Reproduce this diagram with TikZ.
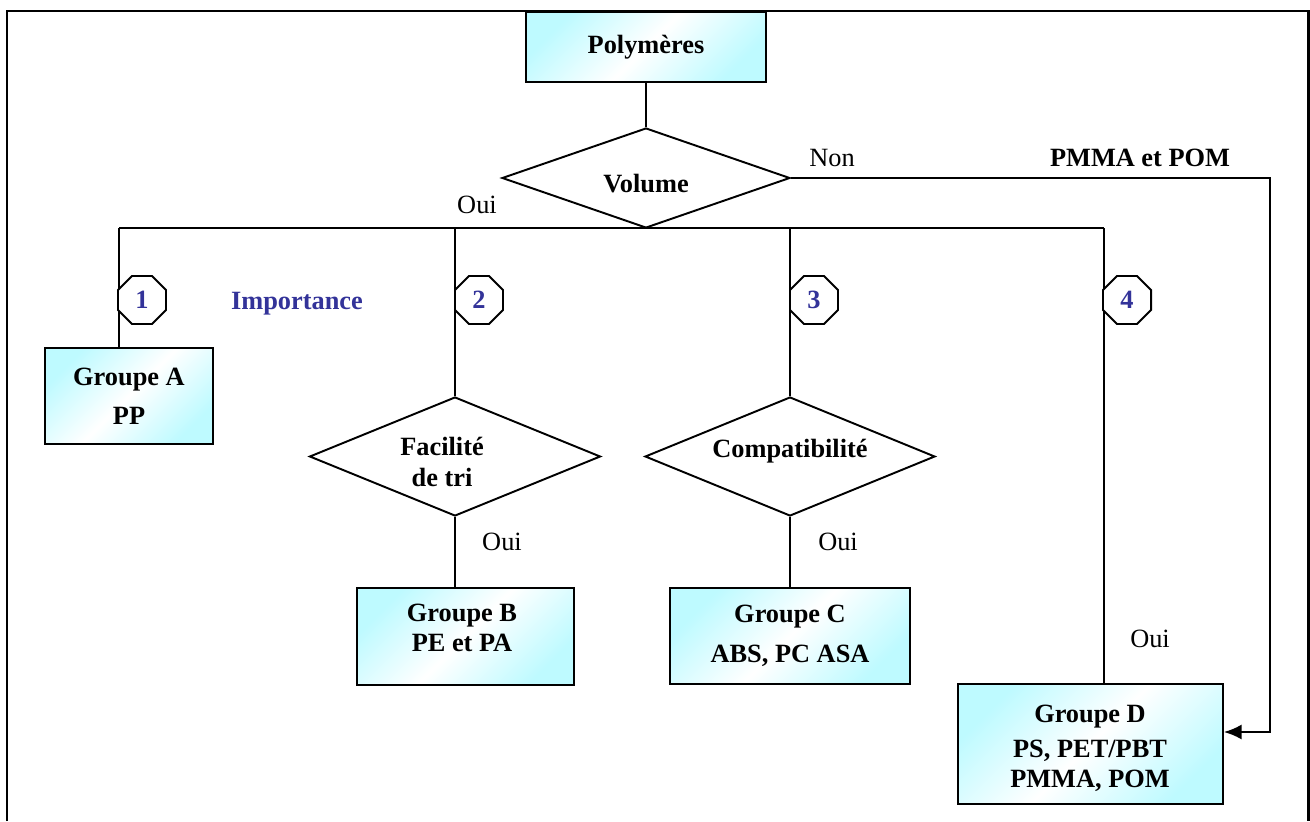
\documentclass[tikz,border=0pt]{standalone}
\usepackage{fontspec}
\setmainfont{Liberation Serif}
\usetikzlibrary{shapes.geometric, arrows.meta}
\definecolor{boxcyan}{RGB}{190,250,255}
\definecolor{numblue}{RGB}{51,51,153}
\tikzset{
	groupbox/.style={draw, line width=1.1pt, left color=boxcyan, right color=boxcyan, middle color=white, shading angle=45, align=center, inner sep=0pt, font=\bfseries\fontsize{15}{19}\selectfont},
	grouptext/.style={align=center, inner sep=0pt, font=\bfseries\fontsize{15}{19}\selectfont},
	choice/.style={draw, diamond, line width=1.1pt, aspect=2.5, inner sep=0pt, align=center, font=\bfseries\fontsize{15}{19}\selectfont},
	octo/.style={draw, regular polygon, regular polygon sides=8, minimum size=1.04cm, inner sep=0pt, fill=white, line width=1.1pt, text=numblue, font=\bfseries\fontsize{15}{19}\selectfont},
	link/.style={line width=1.1pt},
	answer/.style={font=\fontsize{15}{19}\selectfont}
}

\begin{document}
\begin{tikzpicture}[x=0.02cm, y=-0.02cm]
		\useasboundingbox (0,0) rectangle (1310,821);
		\draw[line width=1.7pt] (7,821)--(7,11)--(1308,11)--(1308,821);
		% boxes and tests
		\node[groupbox, minimum width=4.8cm, minimum height=1.4cm] (poly) at (646,47) {Polymères};
		\node[choice, minimum width=5.76cm, minimum height=2cm] (vol) at (646,178) {\raisebox{-3pt}[\height][\depth]{Volume}};
		\node[groupbox, minimum width=3.36cm, minimum height=1.92cm] (grA) at (129,396) {Groupe A\\[3pt]PP};
		\node[choice, minimum width=5.82cm, minimum height=2.38cm] (fac) at (455,456.5) {};
		\node[grouptext] (factxt) at (442,462) {Facilité\\[-1.5pt]de tri};
		\node[choice, minimum width=5.8cm, minimum height=2.38cm] (comp) at (790,456.5) {\raisebox{9pt}{Compatibilité}};
		\node[groupbox, minimum width=4.34cm, minimum height=1.94cm] (grB) at (465.5,636.5) {};
		\node[grouptext] (grBtxt) at (462,628) {Groupe B\\[-2pt]PE et PA};
		\node[groupbox, minimum width=4.8cm, minimum height=1.92cm] (grC) at (790,636) {Groupe C\\[4pt]ABS, PC ASA};
		\node[groupbox, minimum width=5.3cm, minimum height=2.4cm] (grD) at (1090.5,744) {};
		\node[grouptext] (grDtxt) at (1090,748) {Groupe D\\[1pt]PS, PET/PBT\\[-2pt]PMMA, POM};
		% bus and branches
		\coordinate (busA) at (119,228);
		\coordinate (busB) at (455,228);
		\coordinate (busC) at (790,228);
		\coordinate (busD) at (1104,228);
		\coordinate (turn) at (1270,732);
		\draw[link] (poly.south)--(vol.north);
		\draw[link] (busA)--(busD);
		\draw[link] (busA)--(busA |- grA.north);
		\draw[link] (busB)--(fac.north);
		\draw[link] (busC)--(comp.north);
		\draw[link] (busD)--(busD |- grD.north);
		\draw[link] (fac.south)--(fac.south |- grB.north);
		\draw[link] (comp.south)--(grC.north);
		\draw[link, -{Latex[length=10pt, width=8.5pt]}] (vol.east) -| (turn) -- (turn -| grD.east);
		% numbered criteria
		\node[octo] (n1) at (142,300) {1};
		\node[octo] (n2) at (479,300) {2};
		\node[octo] (n3) at (814,300) {3};
		\node[octo] (n4) at (1127,300) {4};
		\node[text=numblue, font=\bfseries\fontsize{15}{19}\selectfont] (imp) at (297,304) {Importance};
		% answers
		\node[answer] (non) at (832,158) {Non};
		\node[font=\bfseries\fontsize{15}{19}\selectfont] (pmma) at (1140,158) {PMMA et POM};
		\node[answer] (oui0) at (477,205) {Oui};
		\node[answer] (oui1) at (502,542) {Oui};
		\node[answer] (oui2) at (838,542) {Oui};
		\node[answer] (oui3) at (1150,639) {Oui};
	\end{tikzpicture}
\end{document}
